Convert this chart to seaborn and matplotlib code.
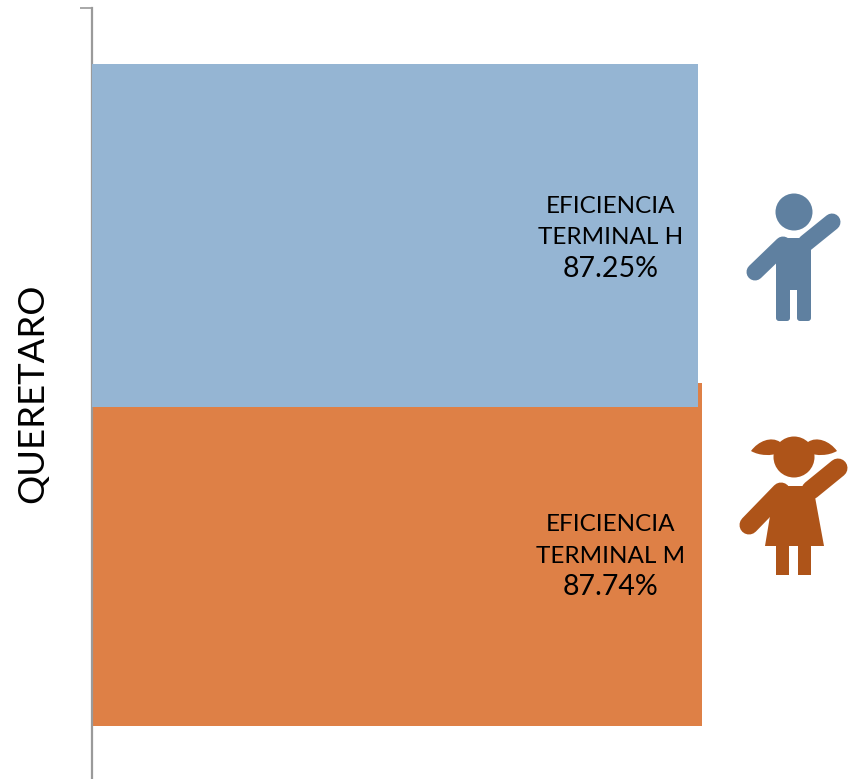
import matplotlib
matplotlib.use("Agg")
import matplotlib.pyplot as plt
from matplotlib.patches import Circle, PathPatch, Polygon, Rectangle, FancyBboxPatch
from matplotlib.path import Path
import pandas as pd
import seaborn as sns

# data
estado = "QUERETARO"
series = ["H", "M"]
valores = [87.25, 87.74]
colores = ["#95B5D3", "#DE8046"]

sns.set_theme(style="white")
plt.rcParams["font.family"] = ["Lato", "DejaVu Sans"]

df = pd.DataFrame({"serie": series, "valor": valores})

fig = plt.figure(figsize=(8.48, 7.79), dpi=100)
ax = fig.add_axes([92 / 848, 0, (848 - 92) / 848, (779 - 8) / 779])

sns.barplot(data=df, y="serie", x="valor", hue="serie", palette=colores,
            order=series, hue_order=series, saturation=1, width=1.077,
            legend=False, linewidth=0, ax=ax)

# H va encima de M
ax.patches[0].set_zorder(3)
ax.patches[1].set_zorder(2)

ax.set_xlim(0, 108.8)
ax.set_ylim(1.706, -0.714)

# etiquetas: dos lineas de texto y el valor un poco mas grande
for i, (s, v) in enumerate(zip(series, valores)):
    ax.annotate(f"EFICIENCIA\nTERMINAL {s}", (74.6, i), xytext=(0, 9.7), textcoords="offset points",
                ha="center", va="center", fontsize=17.5, color="black", linespacing=1.6, zorder=5)
    ax.annotate(f"{v:.2f}%", (74.6, i), xytext=(0, -24), textcoords="offset points",
                ha="center", va="center", fontsize=20.5, color="black", zorder=5)

# ejes: solo la linea izquierda con una marca arriba
for lado in ["top", "right", "bottom"]:
    ax.spines[lado].set_visible(False)
ax.spines["left"].set_color("#9A9A9A")
ax.spines["left"].set_linewidth(1.6)
ax.set_xticks([])
ax.set_yticks([-0.714])
ax.set_yticklabels([""])
ax.tick_params(axis="y", left=True, length=9, width=1.2, color="#9A9A9A")
ax.set_xlabel("")
ax.set_ylabel("")
fig.text(33 / 848, 1 - 393.5 / 779, estado, rotation=90, ha="center", va="center",
         fontsize=26.3, color="black")

# iconos, en pixeles de la figura
ico = fig.add_axes([0, 0, 1, 1], facecolor="none")
ico.set_xlim(0, 848)
ico.set_ylim(779, 0)
ico.axis("off")

def brazo(x0, y0, x1, y1, grosor, color):
    ico.plot([x0, x1], [y0, y1], color=color, lw=grosor * 0.72, solid_capstyle="round")

def coleta(x_ext, x_int, color):
    # coleta de la nina: curva de la punta hasta la cabeza y de vuelta
    d = x_int - x_ext
    puntos = [(x_ext, 451), (x_ext + 0.25 * d, 441), (x_ext + 0.7 * d, 436), (x_int, 442),
              (x_int, 448), (x_int, 450), (x_int, 453),
              (x_ext + 0.7 * d, 456), (x_ext + 0.3 * d, 456), (x_ext, 451)]
    codigos = [Path.MOVETO] + [Path.CURVE4] * 9
    ico.add_patch(PathPatch(Path(puntos, codigos), color=color, lw=0))

# nino
azul = "#5F80A0"
ico.add_patch(Circle((794, 212), 18.5, color=azul, lw=0))
ico.add_patch(Polygon([(779, 238), (811, 238), (811, 290), (776, 290), (776, 248)], color=azul, lw=0))
brazo(755, 272, 783, 245, 17, azul)
brazo(806, 243, 832, 222, 17, azul)
for x0 in [776, 797]:
    ico.add_patch(FancyBboxPatch((x0 + 3, 282), 8, 36, boxstyle="round,pad=3", color=azul, lw=0))

# nina
cafe = "#AE5419"
ico.add_patch(Circle((794, 457), 20.5, color=cafe, lw=0))
coleta(751, 780, cafe)
coleta(837, 808, cafe)
ico.add_patch(Polygon([(775, 486), (813, 486), (824, 546), (765, 546)], color=cafe, lw=0))
brazo(749, 525, 781, 492, 19, cafe)
brazo(811, 490, 838, 468, 19, cafe)
ico.add_patch(Rectangle((776, 540), 12.5, 35, color=cafe, lw=0))
ico.add_patch(Rectangle((798, 540), 12.5, 35, color=cafe, lw=0))

fig.savefig("out.png", dpi=100)
